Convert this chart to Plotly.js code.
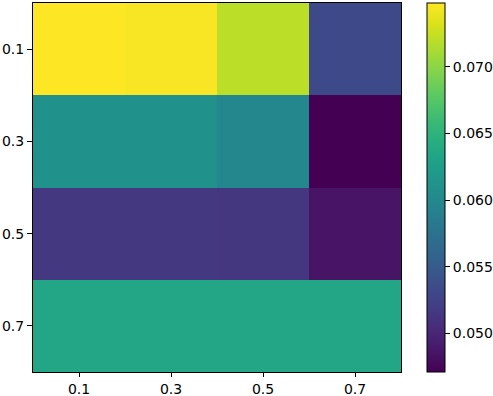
<!DOCTYPE html>
<html><head><meta charset="utf-8">
<script src="https://cdn.plot.ly/plotly-3.0.1.min.js"></script>
<style>body{margin:0;padding:0;background:#fff}#chart{width:493px;height:396px}</style>
</head><body><div id="chart"></div>
<script>
const xLabels = ['0.1','0.3','0.5','0.7'];
const yLabels = ['0.1','0.3','0.5','0.7'];
const row01 = [0.0748, 0.0746, 0.0720, 0.0532];
const row03 = [0.0610, 0.0610, 0.0599, 0.0471];
const row05 = [0.0516, 0.0516, 0.0514, 0.0485];
const row07 = [0.0635, 0.0635, 0.0635, 0.0635];
const cbTicks = [0.050, 0.055, 0.060, 0.065, 0.070];

const z = [row01, row03, row05, row07];
const font = {family: 'DejaVu Sans', size: 14, color: '#000'};
const trace = {
  type: 'heatmap', x: xLabels, y: yLabels, z: z,
  colorscale: 'Viridis', zmin: 0.0471, zmax: 0.0748,
  xgap: 0, ygap: 0,
  colorbar: {
    x: 1.0707, xanchor: 'left', xref: 'paper', y: 0.5, yanchor: 'middle', len: 1, lenmode: 'fraction',
    xpad: 0, ypad: 0,
    thickness: 18, thicknessmode: 'pixels',
    outlinewidth: 1, outlinecolor: '#000',
    tickvals: cbTicks, tickformat: '.3f', ticks: 'outside', ticklen: 5, tickwidth: 1, tickcolor: '#000',
    tickfont: font
  }
};
const layout = {
  width: 493, height: 396,
  margin: {l: 33, r: 92, t: 3, b: 24, autoexpand: false},
  paper_bgcolor: '#fff', plot_bgcolor: '#fff',
  font: font,
  xaxis: {type: 'category', showgrid: false, zeroline: false, showline: true, linecolor: '#000', linewidth: 1, mirror: true,
          ticks: 'outside', ticklen: 4, tickcolor: '#000', tickfont: font},
  yaxis: {type: 'category', autorange: 'reversed', showgrid: false, zeroline: false, showline: true, linecolor: '#000', linewidth: 1, mirror: true,
          ticks: 'outside', ticklen: 5, tickcolor: '#000', tickfont: font}
};
Plotly.newPlot('chart', [trace], layout, {displayModeBar: false, staticPlot: true});
</script></body></html>
